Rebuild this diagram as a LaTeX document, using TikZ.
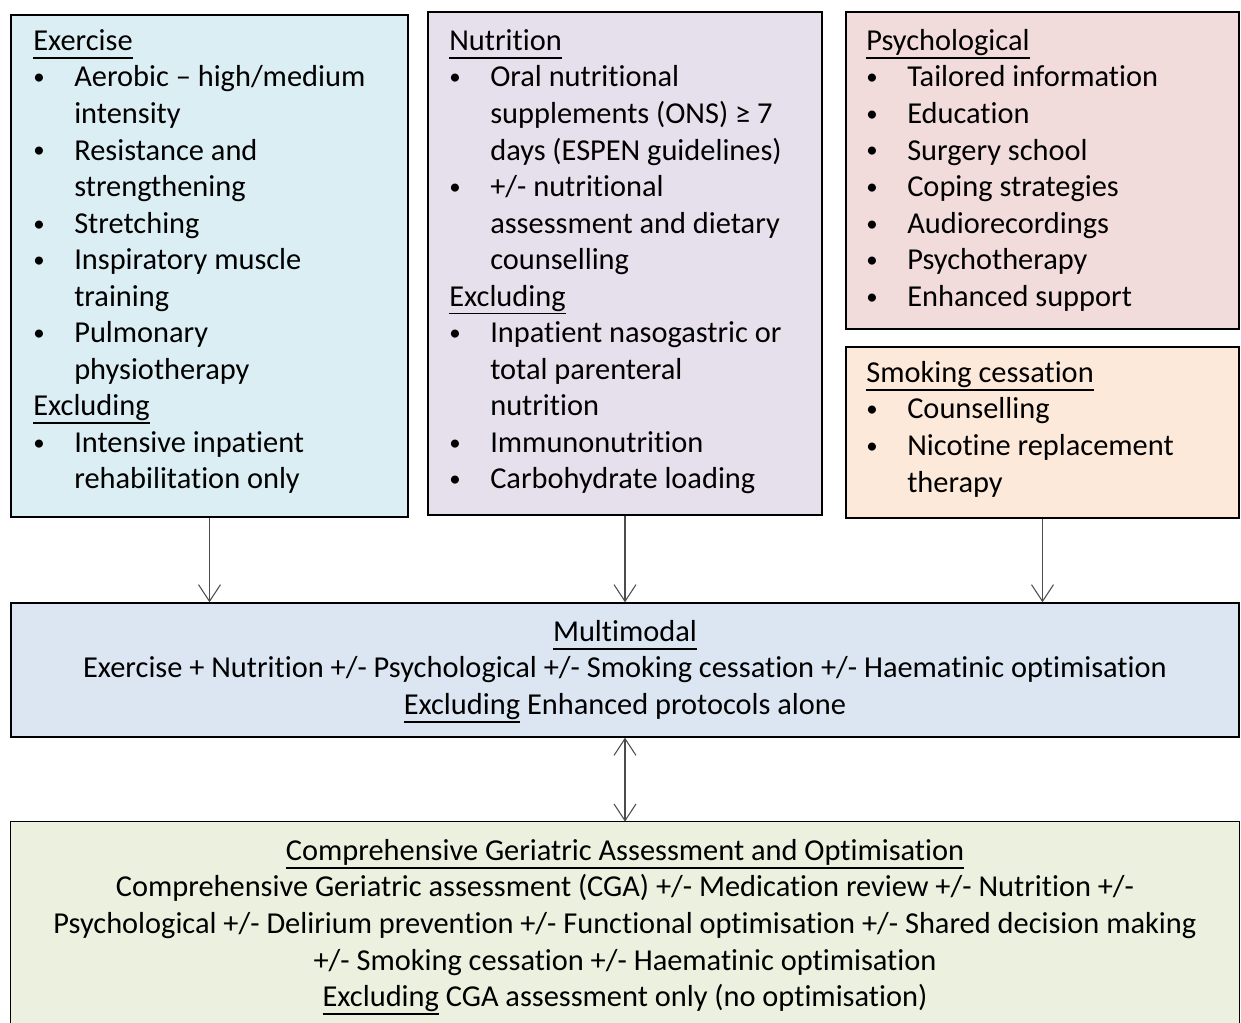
\documentclass[tikz,border=0pt]{standalone}
\usepackage{fontspec}
\setmainfont{Carlito}[Ligatures={NoCommon}]
\usetikzlibrary{arrows.meta,fit}

\definecolor{exfill}{HTML}{DBEEF4}
\definecolor{nufill}{HTML}{E5E0EC}
\definecolor{psfill}{HTML}{F2DCDB}
\definecolor{smfill}{HTML}{FDE9D9}
\definecolor{mmfill}{HTML}{DCE6F2}
\definecolor{cgafill}{HTML}{EBF1DE}

\newsavebox\ulbox
\newcommand\ulhd[1]{\sbox\ulbox{#1}\rlap{\rule[-4.6pt]{\wd\ulbox}{0.9pt}}\usebox\ulbox}
\newcommand\bul{\raisebox{1.2pt}{\fontsize{13}{13}\selectfont\textbullet}}

\begin{document}
\begin{tikzpicture}[x=0.02cm, y=-0.02cm,
  box/.style={draw=black, line width=0.8pt, inner sep=0pt},
  txt/.style={inner sep=0pt, font=\fontsize{17.3}{20.8}\selectfont},
  arr/.style={draw=black!70, line width=0.6pt, -{Straight Barb[length=9.5pt,width=12.5pt]}},
  dblarr/.style={arr, {Straight Barb[length=9.5pt,width=12.5pt]}-{Straight Barb[length=9.5pt,width=12.5pt]}}]
\useasboundingbox (0,0) rectangle (1241,1023);

% boxes
\node[box, fill=exfill, fit={(11,15) (408,517)}] (ex) {};
\node[box, fill=nufill, fit={(428,12) (822,515)}] (nu) {};
\node[box, fill=psfill, fit={(846,12) (1239,329)}] (ps) {};
\node[box, fill=smfill, fit={(846,347) (1239,518)}] (sm) {};
\node[box, fill=mmfill, fit={(11,603) (1239,737)}] (mm) {};
\node[inner sep=0pt, fill=cgafill, fit={(11,822) (1239,1023)}] (cga) {};
\draw[line width=0.8pt] (cga.south west) -- (cga.north west) -- (cga.north east) -- (cga.south east);

% texts
\node[txt, anchor=north west] (extxt) at (33,24.5) {\begin{tabular}[t]{@{}p{23.3pt}@{}l@{}}
\multicolumn{2}{@{}l@{}}{\ulhd{Exercise}}\\
\bul & Aerobic -- high/medium\\
 & intensity\\
\bul & Resistance and\\
 & strengthening\\
\bul & Stretching\\
\bul & Inspiratory muscle\\
 & training\\
\bul & Pulmonary\\
 & physiotherapy\\
\multicolumn{2}{@{}l@{}}{\ulhd{Excluding}}\\
\bul & Intensive inpatient\\
 & rehabilitation only
\end{tabular}};

\node[txt, anchor=north west] (nutxt) at (449,24.5) {\begin{tabular}[t]{@{}p{23.3pt}@{}l@{}}
\multicolumn{2}{@{}l@{}}{\ulhd{Nutrition}}\\
\bul & Oral nutritional\\
 & supplements (ONS) ≥ 7\\
 & days (ESPEN guidelines)\\
\bul & +/- nutritional\\
 & assessment and dietary\\
 & counselling\\
\multicolumn{2}{@{}l@{}}{\ulhd{Excluding}}\\
\bul & Inpatient nasogastric or\\
 & total parenteral\\
 & nutrition\\
\bul & Immunonutrition\\
\bul & Carbohydrate loading
\end{tabular}};

\node[txt, anchor=north west] (pstxt) at (866,24.5) {\begin{tabular}[t]{@{}p{23.3pt}@{}l@{}}
\multicolumn{2}{@{}l@{}}{\ulhd{Psychological}}\\
\bul & Tailored information\\
\bul & Education\\
\bul & Surgery school\\
\bul & Coping strategies\\
\bul & Audiorecordings\\
\bul & Psychotherapy\\
\bul & Enhanced support
\end{tabular}};

\node[txt, anchor=north west] (smtxt) at (866,356.5) {\begin{tabular}[t]{@{}p{23.3pt}@{}l@{}}
\multicolumn{2}{@{}l@{}}{\ulhd{Smoking cessation}}\\
\bul & Counselling\\
\bul & Nicotine replacement\\
 & therapy
\end{tabular}};

\node[txt, anchor=north] (mmtxt) at (625,615.5) {\begin{tabular}[t]{@{}c@{}}
\ulhd{Multimodal}\\
Exercise + Nutrition +/- Psychological +/- Smoking cessation +/- Haematinic optimisation\\
\ulhd{Excluding} Enhanced protocols alone
\end{tabular}};

\node[txt, anchor=north] (cgatxt) at (625,834.5) {\begin{tabular}[t]{@{}c@{}}
\ulhd{Comprehensive Geriatric Assessment and Optimisation}\\
Comprehensive Geriatric assessment (CGA) +/- Medication review +/- Nutrition +/-\\
Psychological +/- Delirium prevention +/- Functional optimisation +/- Shared decision making\\
+/- Smoking cessation +/- Haematinic optimisation\\
\ulhd{Excluding} CGA assessment only (no optimisation)
\end{tabular}};

% connectors
\draw[arr] (ex.south) -- (ex.south |- mm.north);
\draw[arr] (nu.south) -- (nu.south |- mm.north);
\draw[arr] (sm.south) -- (sm.south |- mm.north);
\draw[dblarr] (mm.south) -- (cga.north);
\end{tikzpicture}
\end{document}
